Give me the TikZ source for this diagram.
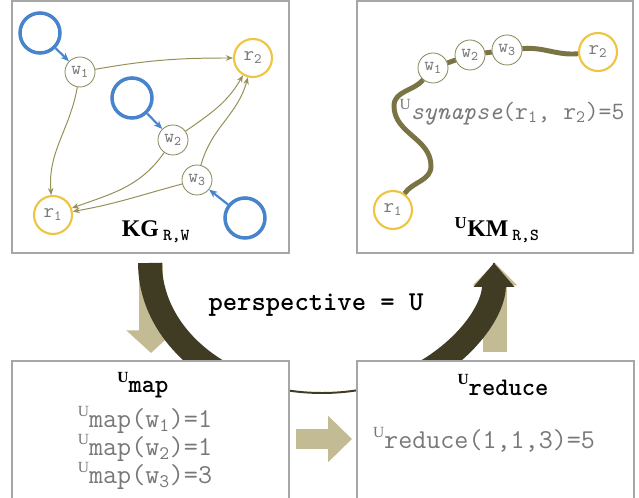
\documentclass[tikz,border=0pt]{standalone}
\usepackage{fontspec}
\setmainfont{Liberation Serif}
\usetikzlibrary{arrows.meta,calc}
\definecolor{kgblue}{RGB}{72,132,204}
\definecolor{kggold}{RGB}{238,196,64}
\definecolor{kgnode}{RGB}{140,138,96}
\definecolor{kgedge}{RGB}{150,144,88}
\definecolor{kmolive}{RGB}{122,116,68}
\definecolor{darkarc}{RGB}{64,60,36}
\definecolor{khaki}{RGB}{194,187,148}
\definecolor{codegray}{RGB}{120,120,120}
\newcommand{\persU}{\raisebox{0.4em}{\rmfamily\fontsize{11}{11}\selectfont U}}

\begin{document}
\begin{tikzpicture}[x=0.025cm,y=0.025cm,font=\ttfamily,
 panel/.style={draw=gray!70,line width=1pt,fill=white,inner sep=0},
 wnode/.style={circle,draw=kgnode,fill=white,line width=0.6pt,minimum size=0.75cm,inner sep=0,font=\fontsize{13.5}{13.5}\selectfont\ttfamily,text=codegray},
 rnode/.style={circle,draw=kggold,fill=white,line width=1.5pt,minimum size=0.95cm,inner sep=0,font=\fontsize{14.5}{14.5}\selectfont\ttfamily,text=codegray},
 loopnode/.style={circle,draw=kgblue,line width=2.5pt,minimum size=1cm,inner sep=0},
 edge/.style={-{Stealth[length=5pt,width=4pt]},draw=kgedge,line width=0.7pt},
 feed/.style={-{Stealth[length=6pt,width=5pt]},draw=kgblue,line width=1.5pt},
 kmline/.style={draw=kmolive,line width=3.5pt},
 darkband/.style={draw=darkarc,line width=17pt},
 lightarr/.style={draw=khaki,line width=17pt},
 code/.style={font=\fontsize{19.4}{20}\selectfont\ttfamily,text=codegray,inner sep=0},
 head/.style={font=\fontsize{18}{18}\selectfont\ttfamily\bfseries,inner sep=0}]
\useasboundingbox (0,0) rectangle (639,498);
% top panels
\node[panel,minimum width=6.925cm,minimum height=6.3cm] (kg) at (150.5,371) {};
\node[panel,minimum width=6.9cm,minimum height=6.3cm] (km) at (495,371) {};
% knowledge graph
\node[loopnode] (l1) at (40,465) {};
\node[wnode] (w1) at (80,426) {w\textsubscript{1}};
\node[rnode] (r2) at (253,440) {r\textsubscript{2}};
\node[loopnode] (l2) at (132,400) {};
\node[wnode] (w2) at (173,358) {w\textsubscript{2}};
\node[wnode] (w3) at (197,318) {w\textsubscript{3}};
\node[loopnode] (l3) at (245,280) {};
\node[rnode] (r1) at (53,283) {r\textsubscript{1}};
\draw[edge] (w1) to[out=10,in=180] (r2);
\draw[edge] (w1) to[out=-100,in=95] (r1);
\draw[edge] (w2) to[out=35,in=240] (r2);
\draw[edge] (w2) to[out=235,in=20] (r1);
\draw[edge] (w3) to[out=75,in=255] (r2);
\draw[edge] (w3) to[out=195,in=10] (r1);
\draw[feed] (l1) -- (w1);
\draw[feed] (l2) -- (w2);
\draw[feed] (l3) -- (w3);
\node[font=\fontsize{17}{17}\selectfont] (kglab) at (156,266) {{\rmfamily\bfseries KG}\,{\ttfamily\bfseries\textsubscript{R,W}}};
% knowledge map
\node[rnode] (kr1) at (393,288) {r\textsubscript{1}};
\node[rnode] (kr2) at (598,446) {r\textsubscript{2}};
\node[wnode] (kw1) at (433,430) {w\textsubscript{1}};
\node[wnode] (kw2) at (470,443) {w\textsubscript{2}};
\node[wnode] (kw3) at (507,448) {w\textsubscript{3}};
\coordinate (bend1) at (431,332);
\coordinate (bend2) at (394,392);
\draw[kmline] (kr1) to[out=55,in=-90] (bend1) to[out=90,in=-90] (bend2) to[out=90,in=-130] (kw1);
\draw[kmline] (kw1) -- (kw2);
\draw[kmline] (kw2) -- (kw3);
\draw[kmline] (kw3) to[out=5,in=185] (kr2);
\node[code,font=\fontsize{17.7}{18}\selectfont\ttfamily] (syn) at (512,386) {\persU\textit{synapse}(r\textsubscript{1}, r\textsubscript{2})=5};
\node[font=\fontsize{17}{17}\selectfont] (kmlab) at (497,268) {{\rmfamily\bfseries\textsuperscript{U}KM}\,{\ttfamily\bfseries\textsubscript{R,S}}};
% light block arrows
\coordinate (dnA) at (151,235); \coordinate (dnB) at (151,145);
\coordinate (upA) at (495,146); \coordinate (upB) at (495,235);
\draw[lightarr,-{Triangle[width=34pt,length=16pt]}] (dnA) -- (dnB);
\draw[lightarr,-{Triangle[width=31pt,length=16pt]}] (upA) -- (upB);
% perspective arc
\coordinate (arcC) at (322,235);
\coordinate (arcL) at (150,235);
\draw[darkarc,line width=1.4pt] (arcL) arc[start angle=180,end angle=360,x radius=172,y radius=130];
\draw[darkband] (arcL) arc[start angle=180,end angle=242,x radius=172,y radius=136];
\draw[darkband,-{Triangle[width=28pt,length=17pt]}] ($(arcC)+(298:172 and 136)$) arc[start angle=298,end angle=360,x radius=172,y radius=136];
\node[font=\fontsize{19.4}{20}\selectfont\ttfamily\bfseries] (persp) at (316,193) {perspective = U};
% bottom panels
\node[panel,minimum width=6.925cm,minimum height=3.675cm] (mapbox) at (150.5,63.5) {};
\node[panel,minimum width=6.925cm,minimum height=3.675cm] (redbox) at (495.5,63.5) {};
\coordinate (rtA) at (296,59); \coordinate (rtB) at (352,59);
\draw[khaki,line width=14pt,-{Triangle[width=32pt,length=17pt]}] (rtA) -- (rtB);
\node[head] (maphead) at (143,113) {{\bfseries\persU}map};
\node[code,align=left] (maplines) at (145,50) {\persU map(w\textsubscript{1})=1\\\persU map(w\textsubscript{2})=1\\\persU map(w\textsubscript{3})=3};
\node[head] (redhead) at (503,113) {{\bfseries\persU}reduce};
\node[code] (redline) at (484,58) {\persU reduce(1,1,3)=5};
\end{tikzpicture}
\end{document}
